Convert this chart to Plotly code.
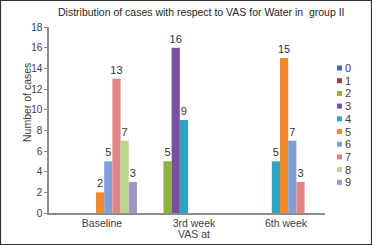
import plotly.graph_objects as go

categories = ["Baseline", "3rd week", "6th week"]
series_names = ["0", "1", "2", "3", "4", "5", "6", "7", "8", "9"]
values_0 = [0, 0, 0]
values_1 = [0, 0, 0]
values_2 = [0, 5, 0]
values_3 = [0, 16, 0]
values_4 = [0, 9, 5]
values_5 = [2, 0, 15]
values_6 = [5, 0, 7]
values_7 = [13, 0, 3]
values_8 = [7, 0, 0]
values_9 = [3, 0, 0]
all_values = [values_0, values_1, values_2, values_3, values_4,
              values_5, values_6, values_7, values_8, values_9]
y_ticks = [0, 2, 4, 6, 8, 10, 12, 14, 16, 18]

colors = ["#3F6E9E", "#A33B3A", "#8DB23F", "#7A4F9E", "#2EA3C2",
          "#F28A2B", "#7F9FD6", "#E08785", "#B7D68E", "#A395C6"]

W, H = 372, 245
L, R, T, B = 49, 47, 27, 32
pw, ph = W - L - R, H - T - B

FONT = "Liberation Sans, Arial, sans-serif"
TXT = "#404040"

fig = go.Figure()
bw = 0.089
for k, (name, vals) in enumerate(zip(series_names, all_values)):
    fig.add_trace(go.Bar(
        x=categories, y=vals, name=name,
        width=bw, offset=-0.065 + (k - 5) * bw,
        marker=dict(color=colors[k], line=dict(width=0)),
        text=[str(v) if v else "" for v in vals],
        textposition="outside", cliponaxis=False, constraintext="none",
        textfont=dict(family=FONT, size=11, color="#333333"),
        showlegend=False,
    ))

shapes = []
annotations = []
# custom compact legend
for k, name in enumerate(series_names):
    ypx = 68 + k * 12.7
    yc = (H - B - ypx) / ph
    shapes.append(dict(type="rect", xref="paper", yref="paper",
                       x0=(337 - L) / pw, x1=(342 - L) / pw,
                       y0=yc - 2.5 / ph, y1=yc + 2.5 / ph,
                       fillcolor=colors[k], line=dict(width=0)))
    annotations.append(dict(xref="paper", yref="paper", x=(343 - L) / pw, y=yc,
                            text=name, showarrow=False, xanchor="left", yanchor="middle",
                            font=dict(family=FONT, size=11, color=TXT)))

# outer border
shapes.append(dict(type="rect", xref="paper", yref="paper",
                   x0=(-L + 0.5) / pw, x1=(pw + R - 0.5) / pw,
                   y0=(-B + 0.5) / ph, y1=(ph + T - 0.5) / ph,
                   line=dict(color="#333333", width=1.2), fillcolor="rgba(0,0,0,0)"))

annotations.append(dict(xref="paper", yref="paper", x=(201 - L) / pw, y=(H - B - 12) / ph,
                        text="Distribution of cases with respect to VAS for Water in  group II",
                        showarrow=False, xanchor="center", yanchor="middle",
                        font=dict(family=FONT, size=10.5, color="#262626")))
annotations.append(dict(xref="paper", yref="paper", x=(27 - L) / pw, y=(H - B - 103) / ph,
                        text="Number of cases", textangle=-90,
                        showarrow=False, xanchor="center", yanchor="middle",
                        font=dict(family=FONT, size=10.5, color=TXT)))
annotations.append(dict(xref="paper", yref="paper", x=(194 - L) / pw, y=(H - B - 234) / ph,
                        text="VAS at",
                        showarrow=False, xanchor="center", yanchor="middle",
                        font=dict(family=FONT, size=10.5, color=TXT)))

fig.update_layout(
    width=W, height=H,
    margin=dict(l=L, r=R, t=T, b=B, pad=0),
    paper_bgcolor="white", plot_bgcolor="white",
    barmode="overlay",
    showlegend=False,
    shapes=shapes, annotations=annotations,
    font=dict(family=FONT, size=10.5, color=TXT),
    xaxis=dict(type="category", range=[-0.576, 2.424], showgrid=False,
               showline=True, linecolor="#8c8c8c", linewidth=1.5,
               ticks="", tickfont=dict(family=FONT, size=10.5, color=TXT),
               fixedrange=True),
    yaxis=dict(range=[0, 18], tickvals=y_ticks, showgrid=False, zeroline=False,
               showline=True, linecolor="#8c8c8c", linewidth=1.5,
               ticks="outside", ticklen=3, tickcolor="#8c8c8c",
               tickfont=dict(family=FONT, size=10, color=TXT),
               fixedrange=True),
)

fig.write_html("out.html", config={"displayModeBar": False},
               post_script="document.body.style.margin='0';document.body.style.padding='0';")
